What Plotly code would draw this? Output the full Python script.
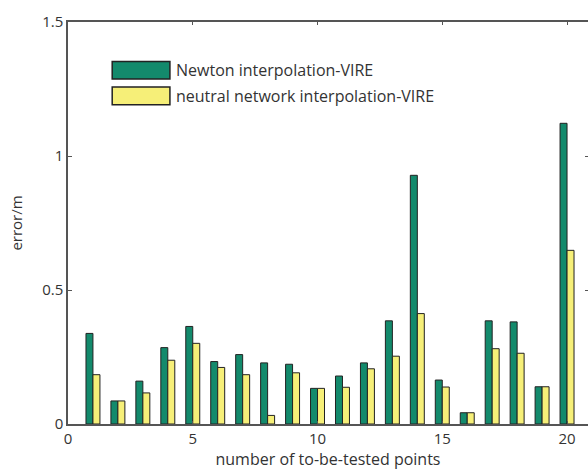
import plotly.graph_objects as go

# Test point indices
points = list(range(1, 21))

# Positioning error (m) for each method
newton_err = [0.338, 0.086, 0.160, 0.285, 0.364, 0.233, 0.259, 0.228, 0.223, 0.133,
              0.179, 0.228, 0.385, 0.928, 0.164, 0.042, 0.385, 0.381, 0.139, 1.122]
neural_err = [0.184, 0.086, 0.116, 0.238, 0.301, 0.211, 0.184, 0.032, 0.191, 0.133,
              0.137, 0.206, 0.253, 0.412, 0.138, 0.042, 0.281, 0.264, 0.139, 0.648]

series_names = ["Newton interpolation-VIRE", "neutral network interpolation-VIRE"]
green = "#138a6c"
yellow = "#f6ef78"
edge = "#222222"
font_family = "Open Sans, DejaVu Sans, sans-serif"
text_color = "#333333"

fig = go.Figure()
fig.add_trace(go.Bar(x=points, y=newton_err, name=series_names[0],
                     width=0.28, offset=-0.28,
                     marker=dict(color=green, line=dict(color=edge, width=1))))
fig.add_trace(go.Bar(x=points, y=neural_err, name=series_names[1],
                     width=0.28, offset=0.0,
                     marker=dict(color=yellow, line=dict(color=edge, width=1))))

# Hand-built legend with large swatches
legend_rows = [(0.858, 0.902, green, series_names[0]),
               (0.794, 0.838, yellow, series_names[1])]
for y0, y1, col, label in legend_rows:
    fig.add_shape(type="rect", xref="paper", yref="paper",
                  x0=0.085, x1=0.196, y0=y0, y1=y1,
                  fillcolor=col, line=dict(color=edge, width=1.5))
    fig.add_annotation(xref="paper", yref="paper", x=0.203, y=(y0 + y1) / 2,
                       text=label, showarrow=False, xanchor="left", yanchor="middle",
                       font=dict(family=font_family, size=16, color=text_color))

axis_line = "#555555"
fig.update_layout(
    width=588, height=470,
    margin=dict(l=68, r=0, t=22, b=46),
    paper_bgcolor="white", plot_bgcolor="white",
    barmode="overlay", showlegend=False,
    font=dict(family=font_family, size=15, color=text_color),
    xaxis=dict(range=[0, 20.84], tickvals=[0, 5, 10, 15, 20],
               ticks="inside", ticklen=3, tickcolor=axis_line,
               showline=True, linecolor=axis_line, linewidth=1.5, mirror="ticks",
               showgrid=False, zeroline=False,
               title=dict(text="number of to-be-tested points", standoff=5,
                          font=dict(size=16))),
    yaxis=dict(range=[0, 1.5], tickvals=[0, 0.5, 1, 1.5],
               ticktext=["0", "0.5", "1", "1.5"],
               ticks="inside", ticklen=4, tickcolor=axis_line,
               showline=True, linecolor=axis_line, linewidth=1.5,
               showgrid=False, zeroline=False,
               title=dict(text="error/m", standoff=16, font=dict(size=15))),
    yaxis2=dict(range=[0, 1.5], tickvals=[0.5, 1], overlaying="y", side="right",
                ticks="inside", ticklen=3, tickcolor=axis_line,
                showticklabels=False, showline=False, showgrid=False, zeroline=False),
)
# Invisible trace to activate the right-hand tick axis
fig.add_trace(go.Scatter(x=[None], y=[None], yaxis="y2", showlegend=False,
                         hoverinfo="skip"))

fig.write_html("out.html")
